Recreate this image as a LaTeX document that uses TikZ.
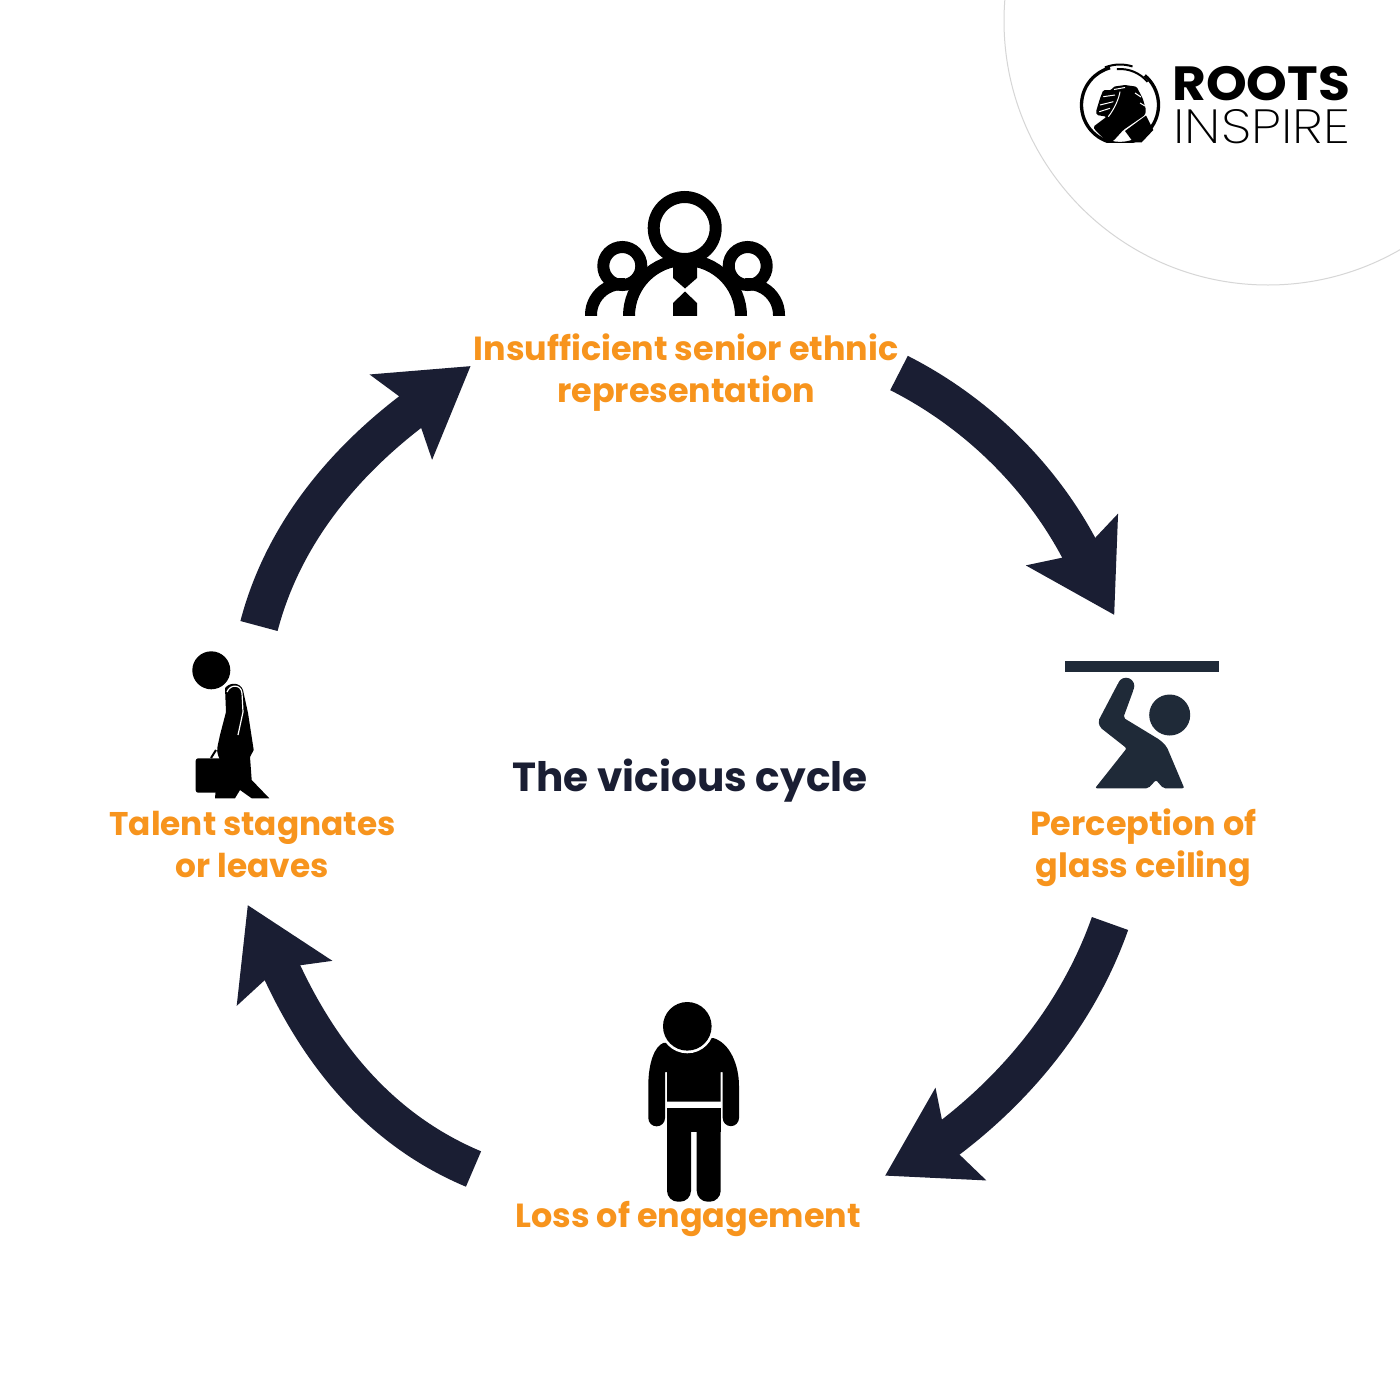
\documentclass[tikz,border=0pt]{standalone}
\usepackage{fontspec}
\setmainfont{Poppins}
\newfontfamily\lightfont{Poppins ExtraLight}
\usetikzlibrary{arrows.meta}
\definecolor{navy}{HTML}{1A1E33}
\definecolor{amber}{HTML}{F7941D}
\definecolor{slate}{HTML}{1F2A38}
\definecolor{hairline}{HTML}{D6D6D6}
\tikzset{
  stage/.style={text=amber,align=center,inner sep=0pt,font=\bfseries\fontsize{33.4}{42}\selectfont},
  headline/.style={text=navy,inner sep=0pt,font=\bfseries\fontsize{40.6}{48}\selectfont},
  cyclearrow/.style={draw=navy,line width=38.5pt,
    -{Stealth[length=85pt,width=102pt,inset=15pt]}},
  ringline/.style={draw=black,line width=12pt},
  brandword/.style={inner sep=0pt,anchor=base west,text height=34pt,text depth=0pt}
}
\begin{document}
\begin{tikzpicture}[x=1pt,y=-1pt]
\useasboundingbox (0,0) rectangle (1400,1400);
\fill[white] (0,0) rectangle (1400,1400);

% corner disc outline
\begin{scope}
  \clip (0,0) rectangle (1400,1400);
  \draw[hairline,line width=1pt] (1268,21) circle[radius=264];
\end{scope}

% brand mark: ring, swish and clasped hands
\draw[black,line width=3.3pt] (1120,105) ++(-50:38.5) arc[start angle=-50,end angle=255,radius=38.5];
\draw[black,line width=2pt] (1120,105) ++(-112:40.5) arc[start angle=-112,end angle=-72,radius=40.5];
\draw[black,line width=2pt] (1120,105) ++(-95:36) arc[start angle=-95,end angle=-40,radius=36];
\fill[white] (1085,142.5) rectangle (1155,150);
\fill[black,rounded corners=1.5pt] (1096.7,115) -- (1096,111.7) -- (1100,98.3) -- (1103.3,90) -- (1111.7,90) -- (1113.3,86.7) -- (1125,85) -- (1136.7,86.7) -- (1138.3,90) -- (1142.7,98.3) -- (1146,110) -- (1145,115) -- (1123.3,130) -- (1113.3,141) -- (1108,142.7) -- (1095,130) -- (1093.3,126.7) -- (1106.7,116.7) -- cycle;
\fill[black] (1125,131) -- (1146,115.5) -- (1153.3,130) -- (1141.7,142.3) -- (1133.3,142.3) -- cycle;
\draw[white,line width=1pt] (1103.3,96.7) -- (1115,95) (1100,105) -- (1113.3,101.7) (1099.3,111.7) -- (1110,108.3) (1114,89.5) -- (1125,87.5) (1135,93) -- (1141,97) (1140,103) -- (1145,106);
\draw[white,line width=1pt] (1120,91.7) .. controls (1119,98) and (1115,108) .. (1108.3,116.7);
\node[brandword] (brandtop) at (1172,100) {\fontsize{48}{48}\selectfont\scalebox{1.08}[1]{\bfseries ROOTS}};
\node[brandword] (brandbottom) at (1173,143) {\lightfont\fontsize{48}{48}\selectfont\scalebox{1.136}[1]{INSPIRE}};

% leadership group
\begin{scope}
  \clip (560,170) rectangle (810,315.5);
  \draw[ringline] (684.7,228) circle[radius=31];
  \draw[ringline] (622.3,266) circle[radius=19];
  \draw[ringline] (747.7,266) circle[radius=19];
  \draw[ringline] (685,316) circle[radius=56];
  \draw[ringline] (591,320) -- (591,315) arc[start angle=180,end angle=275,radius=31];
  \draw[ringline] (779,320) -- (779,315) arc[start angle=0,end angle=-95,radius=31];
  \fill[black] (673,262) -- (697,262) -- (697,278) -- (685,288.5) -- (673,278) -- cycle;
  \fill[black] (685,291.5) -- (697,303) -- (697,316) -- (673,316) -- (673,303) -- cycle;
\end{scope}

% figure under the ceiling
\fill[slate] (1065,661) rectangle (1219.3,672.3);
\fill[slate] (1169.7,715) circle[radius=20.5];
\fill[slate] (1126,686) circle[radius=8.3];
\fill[slate,rounded corners=2pt] (1118.5,682.5) -- (1098.3,721) -- (1100,727.3) -- (1126.7,748.3) -- (1095,788.3) -- (1148.3,788.3) -- (1156,780) -- (1163.3,788.3) -- (1184.3,788.3) -- (1166.7,746.7) -- (1160,740) -- (1123.3,717.7) -- (1133.8,689) -- cycle;

% figure walking away with a briefcase
\fill[black] (211.3,670.3) circle[radius=19];
\fill[black] (225,688) .. controls (230,682) and (240,682) .. (243,690) -- (248,713) -- (253.7,750) -- (250,757) -- (251.7,780) -- (269.3,798.3) -- (251.7,798.3) -- (240,790) -- (235,798.3) -- (215,798.3) -- (217,775) -- (220,760) -- (218,755) .. controls (216,750) and (218,745) .. (220,735) -- (226,712) -- cycle;
\fill[black,rounded corners=2.5pt] (195.7,758.3) rectangle (230,792.7);
\draw[black,line width=2pt] (211,758) -- (216,750);
\draw[white,line width=1.2pt] (227,692) .. controls (230,684) and (241,684) .. (242,693) -- (243,712) -- (238,735);

% figure standing with bowed head
\fill[black] (648.3,1118) arc[start angle=180,end angle=0,radius=8.35] -- (665,1072) -- (667,1072) -- (667,1101.7) -- (720.7,1101.7) -- (720.7,1072) -- (722.7,1072) -- (722.7,1118) arc[start angle=180,end angle=0,radius=8.15] -- (739,1086) .. controls (739,1065) and (730,1043) .. (713.3,1038) -- (663.3,1043) .. controls (655,1046) and (648.3,1062) .. (648.3,1086) -- cycle;
\fill[white] (687.3,1026.3) circle[radius=27];
\fill[black] (687.3,1026.3) circle[radius=24.3];
\fill[black,rounded corners=11pt] (667,1108.3) -- (667,1201.7) -- (691,1201.7) -- (691,1108.3) -- cycle;
\fill[black,rounded corners=11pt] (696.7,1108.3) -- (696.7,1201.7) -- (720.7,1201.7) -- (720.7,1108.3) -- cycle;
\fill[black] (667,1108.3) rectangle (720.7,1131.7);

% stage captions and centre title
\node[headline] (title) at (690,781) {The vicious cycle};
\node[stage] (senior) at (686,373) {Insufficient senior ethnic\\representation};
\node[stage] (glass) at (1143.5,847.5) {Perception of\\glass ceiling};
\node[stage] (engage) at (688,1219) {Loss of engagement};
\node[stage,font=\bfseries\fontsize{32.8}{42}\selectfont] (talent) at (252.5,844) {Talent stagnates\\or leaves};

% arrow tails, body ends, head bases and tips
\coordinate (seniorOut) at (899,373);
\coordinate (seniorEnd) at (1082,554);
\coordinate (seniorBase) at (1077.6,549.6);
\coordinate (glassIn) at (1114.3,615);
\coordinate (glassOut) at (1110,923.5);
\coordinate (glassEnd) at (946.4,1140.4);
\coordinate (glassBase) at (950.8,1139.6);
\coordinate (engageIn) at (885,1175.7);
\coordinate (engageOut) at (473.5,1169);
\coordinate (engageEnd) at (280.4,968.2);
\coordinate (engageBase) at (279.6,972.8);
\coordinate (talentIn) at (247.7,905);
\coordinate (talentOut) at (259,626);
\coordinate (talentEnd) at (414.5,408.8);
\coordinate (talentBase) at (410.2,410.3);
\coordinate (seniorIn) at (470.7,366);

% cycle arrows: a curved body, then the head on its own short run
\draw[cyclearrow] (seniorOut) .. controls (978,413) and (1043,478) .. (seniorEnd) (seniorBase) -- (glassIn);
\draw[cyclearrow] (glassOut) .. controls (1079.3,1010.8) and (1020,1085) .. (glassEnd) (glassBase) -- (engageIn);
\draw[cyclearrow] (engageOut) .. controls (382,1130.5) and (321.3,1057.5) .. (engageEnd) (engageBase) -- (talentIn);
\draw[cyclearrow] (talentOut) .. controls (282.4,536.5) and (341,464.3) .. (talentEnd) (talentBase) -- (seniorIn);
\end{tikzpicture}
\end{document}
